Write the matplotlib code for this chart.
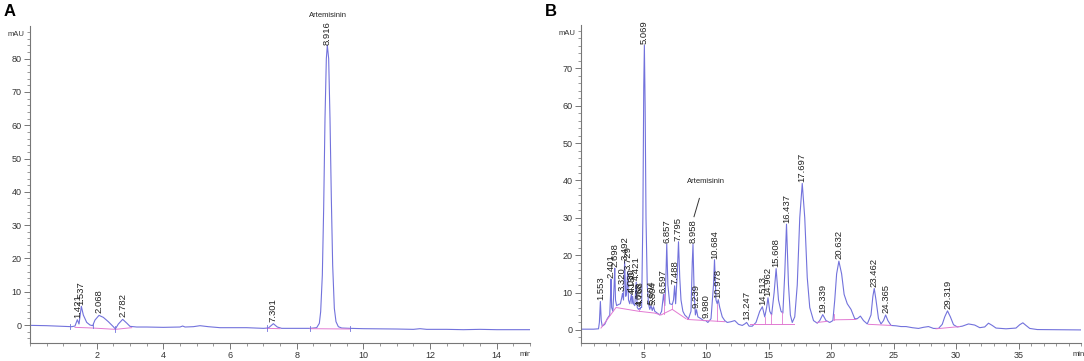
import numpy as np
import matplotlib
matplotlib.use("Agg")
import matplotlib.pyplot as plt
from matplotlib.ticker import MultipleLocator
from matplotlib.transforms import Bbox

plt.rcParams['font.family'] = ['Liberation Sans', 'DejaVu Sans']

# ---- panel A : standard (retention time min, signal mAU) ----
a_time = [0.0, 0.5, 1.0, 1.25, 1.35, 1.42, 1.47, 1.54, 1.60, 1.70, 1.80, 1.88, 1.95, 2.07,
          2.2, 2.35, 2.5, 2.56, 2.65, 2.78, 2.9, 3.0, 3.2, 3.5, 4.0, 4.5, 4.58, 4.65, 4.9,
          5.1, 5.35, 5.7, 6.0, 6.5, 7.0, 7.15, 7.30, 7.42, 7.55, 8.0, 8.4, 8.6, 8.68, 8.72,
          8.77, 8.81, 8.85, 8.89, 8.92, 8.96, 9.0, 9.04, 9.08, 9.13, 9.18, 9.25, 9.35, 9.6,
          10.0, 11.0, 11.5, 11.7, 11.9, 12.5, 13.0, 13.5, 14.0, 15.0]
a_signal = [-0.1, -0.2, -0.4, -0.5, -0.3, 1.6, 0.3, 5.6, 3.0, 0.8, 0.0, -0.2, 1.5, 2.9,
            2.3, 1.0, -0.5, -1.2, 0.3, 1.7, 0.6, -0.4, -0.6, -0.6, -0.7, -0.6, -0.3, -0.6, -0.5,
            -0.2, -0.5, -0.8, -0.8, -0.8, -1.0, -0.9, 0.4, -0.6, -1.0, -1.0, -1.0, -0.8, 0.5, 4.0,
            15.0, 35.0, 62.0, 80.0, 84.0, 80.0, 62.0, 38.0, 18.0, 5.0, 1.0, -0.5, -0.9, -1.0,
            -1.1, -1.2, -1.3, -1.1, -1.3, -1.3, -1.4, -1.3, -1.4, -1.4]
a_peaks = ["1.421", "1.537", "2.068", "2.782", "7.301", "8.916"]
a_base_x = [[1.35, 1.88, 2.56, 3.05], [7.1, 7.5], [8.4, 9.6]]
a_base_y = [[-0.7, -0.9, -1.3, -0.8], [-1.0, -1.1], [-1.1, -1.2]]
a_marks = [1.2, 1.88, 2.56, 7.1, 8.4, 9.6]

# ---- panel B : extract ----
b_time = [0.0, 1.0, 1.40, 1.47, 1.55, 1.62, 1.70, 1.9, 2.1, 2.30, 2.36, 2.40, 2.45, 2.55,
          2.65, 2.70, 2.76, 2.85, 3.0, 3.15, 3.25, 3.32, 3.40, 3.49, 3.58, 3.65, 3.73, 3.80,
          3.9, 4.03, 4.08, 4.13, 4.20, 4.30, 4.42, 4.50, 4.60, 4.67, 4.72, 4.77, 4.85, 4.95,
          5.02, 5.07, 5.13, 5.20, 5.30, 5.40, 5.50, 5.60, 5.70, 5.80, 5.90, 6.10, 6.30, 6.45,
          6.60, 6.70, 6.80, 6.86, 6.95, 7.10, 7.30, 7.40, 7.49, 7.57, 7.70, 7.80, 7.90, 8.00,
          8.15, 8.30, 8.60, 8.80, 8.90, 8.96, 9.05, 9.15, 9.24, 9.35, 9.60, 9.80, 9.98, 10.15,
          10.40, 10.60, 10.68, 10.80, 10.90, 10.98, 11.10, 11.30, 11.50, 11.70, 12.0, 12.3,
          12.6, 12.9, 13.1, 13.25, 13.45, 13.7, 14.0, 14.3, 14.51, 14.70, 14.85, 14.96, 15.10,
          15.25, 15.45, 15.61, 15.80, 16.00, 16.15, 16.30, 16.44, 16.60, 16.75, 16.9, 17.1,
          17.3, 17.5, 17.70, 17.90, 18.1, 18.3, 18.6, 18.9, 19.1, 19.34, 19.6, 19.9, 20.15,
          20.3, 20.45, 20.63, 20.85, 21.05, 21.3, 21.6, 21.9, 22.1, 22.35, 22.6, 22.9, 23.2,
          23.35, 23.46, 23.6, 23.8, 24.0, 24.2, 24.37, 24.55, 24.8, 25.2, 25.6, 26.0, 26.5,
          27.0, 27.4, 27.8, 28.2, 28.6, 28.9, 29.1, 29.32, 29.55, 29.8, 30.1, 30.5, 31.0,
          31.5, 31.9, 32.3, 32.6, 32.9, 33.2, 34.0, 34.8, 35.1, 35.35, 35.6, 35.9, 36.5,
          38.0, 40.0]
b_signal = [0.2, 0.2, 0.3, 2.0, 7.6, 2.5, 1.0, 1.5, 3.0, 4.0, 9.0, 13.6, 6.0, 5.0,
            12.0, 16.5, 8.0, 6.5, 6.8, 7.0, 8.5, 9.8, 8.0, 18.3, 9.0, 10.0, 15.5, 8.0,
            7.0, 9.5, 7.0, 9.0, 7.0, 6.5, 12.8, 6.0, 5.5, 5.8, 5.5, 6.0, 6.0, 30.0,
            65.0, 76.2, 60.0, 30.0, 12.0, 7.0, 5.5, 6.5, 5.2, 6.2, 5.0, 4.5, 4.0, 5.0,
            9.5, 6.5, 15.0, 23.0, 12.0, 7.0, 6.8, 8.0, 11.8, 7.0, 15.0, 23.6, 14.0, 8.0,
            5.0, 4.0, 3.0, 5.0, 18.0, 22.9, 10.0, 4.0, 5.4, 3.5, 3.0, 2.5, 2.5, 2.0,
            3.0, 12.0, 18.8, 8.0, 7.0, 8.1, 6.0, 3.5, 2.5, 2.0, 2.2, 2.5,
            1.5, 1.2, 1.6, 2.0, 1.0, 1.0, 2.0, 5.0, 6.2, 3.5, 6.0, 8.6, 5.0,
            4.0, 10.0, 16.4, 8.0, 5.0, 4.5, 15.0, 28.3, 12.0, 4.0, 2.0, 3.5,
            12.0, 30.0, 39.2, 30.0, 14.0, 6.0, 2.5, 1.8, 2.5, 4.1, 2.5, 2.0, 2.5,
            8.0, 15.0, 18.4, 15.0, 9.5, 7.0, 5.5, 3.0, 3.0, 3.7, 2.5, 1.6, 4.0,
            9.0, 11.1, 8.0, 3.0, 1.6, 2.5, 4.0, 2.5, 1.2, 1.1, 0.9, 0.9, 0.6,
            0.4, 0.7, 0.9, 0.4, 0.4, 1.5, 3.5, 5.1, 3.5, 1.4, 0.8, 1.0, 1.6,
            1.3, 0.6, 0.8, 1.8, 1.2, 0.5, 0.3, 0.5, 1.4, 1.9, 1.2, 0.4, 0.1,
            0.05, 0.0]
b_peaks = ["1.553", "2.401", "2.698", "3.320", "3.492", "3.729", "4.030", "4.130", "4.421",
           "4.668", "4.768", "5.069", "5.604", "5.804", "6.597", "6.857", "7.488", "7.795",
           "8.958", "9.239", "9.980", "10.684", "10.978", "13.247", "14.513", "14.962",
           "15.608", "16.437", "17.697", "19.339", "20.632", "23.462", "24.365", "29.319"]
b_base_x = [[1.6, 2.8, 4.6, 5.9, 6.4, 7.3, 8.4], [8.5, 11.5], [13.5, 17.0],
            [18.9, 19.7], [20.2, 22.0], [23.0, 24.8], [28.4, 30.3]]
b_base_y = [[0.5, 6.0, 5.0, 4.5, 4.0, 5.5, 3.0], [2.8, 2.2], [1.6, 1.6],
            [2.0, 2.3], [2.7, 2.8], [1.5, 1.2], [0.3, 0.9]]
b_drops = [4.6, 6.6, 7.3, 8.5, 10.9, 14.7, 15.2, 16.1, 20.2]

trace_c = '#7272dc'
base_c = '#e27ad2'
txt_c = '#222222'


def style_axes(ax, xmax, xmaj, xmin_step, ylo, yhi, ytop):
    ax.set_xlim(0, xmax)
    ax.set_ylim(ylo, yhi)
    for s in ['top', 'right']:
        ax.spines[s].set_visible(False)
    for s in ['left', 'bottom']:
        ax.spines[s].set_color('#777777')
        ax.spines[s].set_linewidth(0.8)
    ax.xaxis.set_major_locator(MultipleLocator(xmaj))
    ax.xaxis.set_minor_locator(MultipleLocator(xmin_step))
    ax.yaxis.set_minor_locator(MultipleLocator(2))
    ax.tick_params(which='major', length=4, width=0.7, color='#777777',
                   labelsize=6.5, labelcolor='#333333', pad=2)
    ax.tick_params(which='minor', length=2, width=0.6, color='#888888')
    ax.set_xticks(np.arange(xmaj, xmax, xmaj))
    ax.set_yticks(np.arange(0, ytop + 1, 10))


def label_peaks(ax, t, s, peaks):
    for p in peaks:
        x = float(p)
        y = np.interp(x, t, s)
        ax.annotate(p, (x, y), xytext=(0, 1.5), textcoords='offset points',
                    rotation=90, ha='center', va='bottom', fontsize=6.8,
                    color=txt_c, annotation_clip=False)


fig = plt.figure(figsize=(10.84, 3.61), dpi=100)
axA = fig.add_axes([30 / 1084, 18 / 361, 500 / 1084, 317 / 361])
axB = fig.add_axes([581 / 1084, 18 / 361, 500 / 1084, 318 / 361])

# panel A
axA.plot(a_time, a_signal, color=trace_c, lw=0.8)
for bx, by in zip(a_base_x, a_base_y):
    axA.plot(bx, by, color=base_c, lw=0.7)
for m in a_marks:
    y = np.interp(m, a_time, a_signal)
    axA.plot([m, m], [y - 0.8, y + 0.8], color=trace_c, lw=0.6)
style_axes(axA, 15, 2, 0.5, -5.4, 89.8, 80)
label_peaks(axA, a_time, a_signal, a_peaks)
axA.text(8.94, 92.9, 'Artemisinin', fontsize=5.5, ha='center', va='center',
         color=txt_c, clip_on=False)

# panel B
axB.plot(b_time, b_signal, color=trace_c, lw=0.8)
for bx, by in zip(b_base_x, b_base_y):
    axB.plot(bx, by, color=base_c, lw=0.7)
for d in b_drops:
    yt = np.interp(d, b_time, b_signal)
    yb = 0
    for bx, by in zip(b_base_x, b_base_y):
        if bx[0] <= d <= bx[-1]:
            yb = np.interp(d, bx, by)
    axB.plot([d, d], [yb, yt], color=base_c, lw=0.6)
style_axes(axB, 40, 5, 1, -3.5, 81.6, 70)
label_peaks(axB, b_time, b_signal, b_peaks)
axB.text(10.0, 39.7, 'Artemisinin', fontsize=5.5, ha='center', va='center', color=txt_c)
axB.plot([9.47, 9.04], [35.2, 30.3], color='#333333', lw=0.7)

# axis unit labels
for ax in [axA, axB]:
    ax.text(-0.012, 0.985, 'mAU', transform=ax.transAxes, fontsize=5.5, color='#333333',
            ha='right', va='top')
ta = fig.text(520 / 1084, 6 / 361, 'min', fontsize=5.5, color='#333333', ha='left', va='center')
ta.set_clip_box(Bbox.from_extents(0, 0, 530, 361))
ta.set_clip_on(True)
fig.text(1073 / 1084, 6 / 361, 'min', fontsize=5.5, color='#333333', ha='left', va='center')

fig.text(4 / 1084, 349 / 361, 'A', fontsize=12, fontweight='bold', va='center')
fig.text(545 / 1084, 349 / 361, 'B', fontsize=12, fontweight='bold', va='center')

fig.savefig('out.png', dpi=100)
